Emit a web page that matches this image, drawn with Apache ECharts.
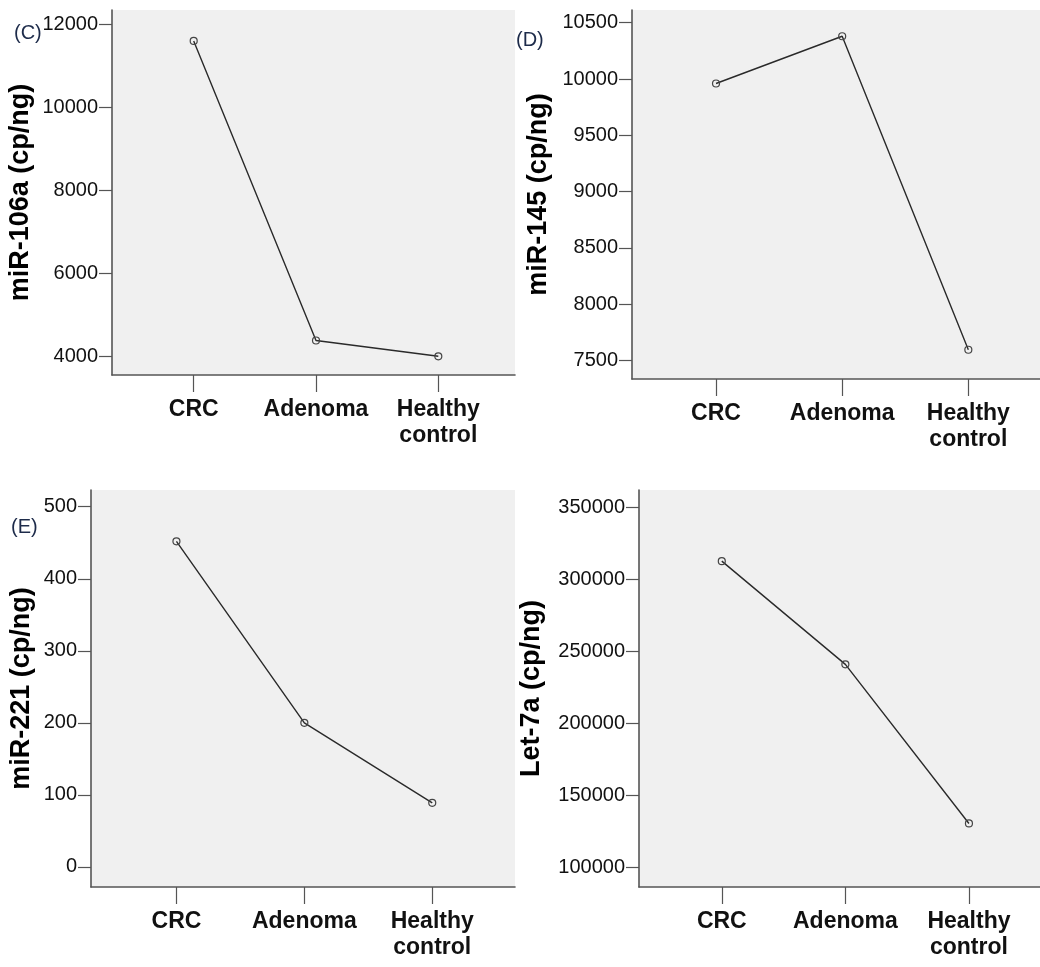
<!DOCTYPE html>
<html>
<head>
<meta charset="utf-8">
<script src="https://cdn.jsdelivr.net/npm/echarts@6/dist/echarts.min.js"></script>
<style>
html, body { margin: 0; padding: 0; background: #fff; }
#chart { width: 1040px; height: 967px; }
</style>
</head>
<body>
<div id="chart"></div>
<script>
const categories = ['CRC', 'Adenoma', 'Healthy\ncontrol'];

const mir106a = [11600, 4380, 4000];
const mir145 = [9960, 10380, 7595];
const mir221 = [452, 200, 89];
const let7a = [312800, 241000, 130300];

const ticks106a = [4000, 6000, 8000, 10000, 12000];
const ticks145 = [7500, 8000, 8500, 9000, 9500, 10000, 10500];
const ticks221 = [0, 100, 200, 300, 400, 500];
const ticksLet7a = [100000, 150000, 200000, 250000, 300000, 350000];

const panels = [
    { tag: '(C)', tagPos: [14, 33], name: 'miR-106a (cp/ng)', values: mir106a, ticks: ticks106a,
      grid: { left: 112, top: 10, width: 403, height: 365 }, xRange: [-0.668, 2.627], yRange: [3549, 12345], nameGap: 78 },
    { tag: '(D)', tagPos: [516, 40], name: 'miR-145 (cp/ng)', values: mir145, ticks: ticks145,
      grid: { left: 632, top: 10, width: 408, height: 369 }, xRange: [-0.666, 2.568], yRange: [7335, 10613], nameGap: 80 },
    { tag: '(E)', tagPos: [11, 527], name: 'miR-221 (cp/ng)', values: mir221, ticks: ticks221,
      grid: { left: 91, top: 490, width: 424, height: 397 }, xRange: [-0.668, 2.647], yRange: [-27.8, 523.2], nameGap: 56 },
    { tag: '', tagPos: [0, 0], name: 'Let-7a (cp/ng)', values: let7a, ticks: ticksLet7a,
      grid: { left: 639, top: 490, width: 401, height: 397 }, xRange: [-0.670, 2.575], yRange: [86096, 362305], nameGap: 94 },
];

const axisColor = '#555';
const chart = echarts.init(document.getElementById('chart'));

const option = {
    animation: false,
    backgroundColor: '#fff',
    grid: panels.map(p => ({
        ...p.grid,
        show: true,
        backgroundColor: '#f0f0f0',
        borderWidth: 0,
        containLabel: false
    })),
    xAxis: panels.map((p, i) => ({
        type: 'value',
        gridIndex: i,
        min: p.xRange[0],
        max: p.xRange[1],
        splitLine: { show: false },
        axisLine: { show: true, onZero: false, lineStyle: { color: axisColor, width: 1.6 } },
        axisTick: { show: true, length: 17, customValues: [0, 1, 2], lineStyle: { color: axisColor, width: 1.2 } },
        axisLabel: {
            customValues: [0, 1, 2],
            formatter: v => categories[Math.round(v)],
            margin: 22,
            color: '#111',
            fontFamily: 'Liberation Sans, Arial, sans-serif',
            fontWeight: 'bold',
            fontSize: 23,
            lineHeight: 26
        }
    })),
    yAxis: panels.map((p, i) => ({
        type: 'value',
        gridIndex: i,
        min: p.yRange[0],
        max: p.yRange[1],
        splitLine: { show: false },
        axisLine: { show: true, onZero: false, lineStyle: { color: axisColor, width: 1.6 } },
        axisTick: { show: true, length: 13, customValues: p.ticks, lineStyle: { color: axisColor, width: 1.2 } },
        axisLabel: {
            customValues: p.ticks,
            formatter: v => String(v),
            margin: 14,
            color: '#111',
            fontFamily: 'Liberation Sans, Arial, sans-serif',
            fontSize: 20
        },
        name: p.name,
        nameLocation: 'middle',
        nameRotate: 90,
        nameGap: p.nameGap,
        nameTextStyle: {
            color: '#000',
            fontFamily: 'Liberation Sans, Arial, sans-serif',
            fontWeight: 'bold',
            fontSize: 27
        }
    })),
    series: panels.map((p, i) => ({
        type: 'line',
        xAxisIndex: i,
        yAxisIndex: i,
        data: p.values.map((v, k) => [k, v]),
        symbol: 'circle',
        symbolSize: 7,
        lineStyle: { color: '#2a2a2a', width: 1.4 },
        itemStyle: { color: 'transparent', borderColor: '#444', borderWidth: 1.2 }
    })),
    graphic: panels.filter(p => p.tag).map(p => ({
        type: 'text',
        x: p.tagPos[0],
        y: p.tagPos[1],
        style: {
            text: p.tag,
            fill: '#1d2b4a',
            font: '20px "Liberation Sans", Arial, sans-serif',
            verticalAlign: 'middle'
        }
    }))
};

chart.setOption(option);
</script>
</body>
</html>
